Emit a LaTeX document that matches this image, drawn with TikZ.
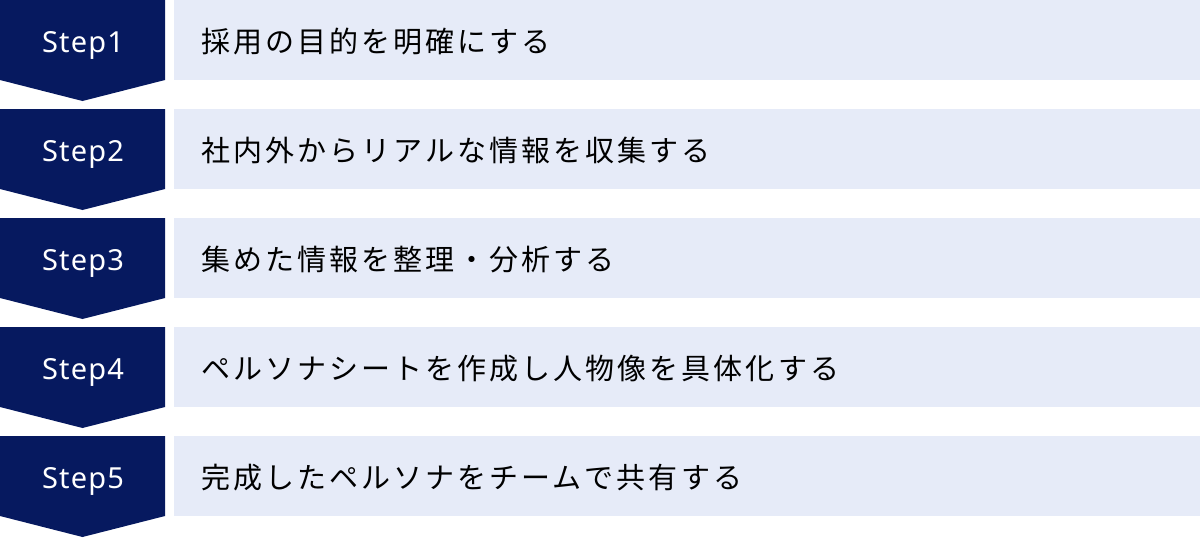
\documentclass[tikz,border=0pt]{standalone}
\usepackage{fontspec}
\setmainfont{Noto Sans}
\newfontfamily\stepfont[LetterSpace=4]{Noto Sans}
\newfontfamily\jpfont[LetterSpace=10.5]{Noto Sans CJK JP}
\definecolor{navy}{HTML}{06195F}
\definecolor{lightbg}{HTML}{E6EBF8}
\tikzset{
  chev/.style={fill=navy},
  bar/.style={fill=lightbg},
  steplabel/.style={text=white,font=\stepfont\fontsize{29}{34}\selectfont,anchor=base,inner sep=0},
  desc/.style={text=black,font=\jpfont\fontsize{29}{34}\selectfont,anchor=base west,inner sep=0}
}
\begin{document}
\begin{tikzpicture}[x=1pt,y=-1pt]
\useasboundingbox (0,0) rectangle (1200,538);
\foreach \i/\t in {1/採用の目的を明確にする,2/社内外からリアルな情報を収集する,3/集めた情報を整理・分析する,4/ペルソナシートを作成し人物像を具体化する,5/完成したペルソナをチームで共有する}{
  \pgfmathsetmacro{\yy}{(\i-1)*109}
  \fill[chev] (0,\yy) -- (165,\yy) -- (165,\yy+80) -- (82.5,\yy+101) -- (0,\yy+80) -- cycle;
  \fill[bar] (174,\yy) rectangle (1200,\yy+80);
  \node[steplabel] (step\i) at (83,\yy+52) {Step\i};
  \node[desc] (box\i) at (201,\yy+52) {\t};
}
\end{tikzpicture}
\end{document}
